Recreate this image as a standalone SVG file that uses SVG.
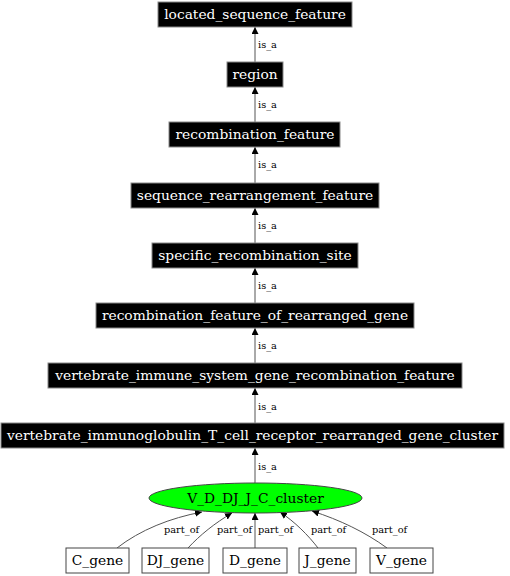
<svg xmlns="http://www.w3.org/2000/svg" width="510" height="576" viewBox="0 0 510 576">
<defs>
<marker id="arr" viewBox="0 0 10 10" refX="10" refY="5" markerWidth="7" markerHeight="7" markerUnits="userSpaceOnUse" orient="auto">
<path d="M0,0 L10,5 L0,10 z" fill="#000"/>
</marker>
<style>
.b rect{fill:#000;stroke:#888;stroke-width:1}
.b text{fill:#fff;font-family:"DejaVu Serif",serif;font-size:13.8px;text-anchor:middle}
.w rect{fill:#fff;stroke:#444;stroke-width:1}
.w text{fill:#000;font-family:"DejaVu Serif",serif;font-size:13.8px;text-anchor:middle}
.e path{fill:none;stroke:#555;stroke-width:1;marker-end:url(#arr)}
.e text{fill:#000;font-family:"DejaVu Serif",serif;font-size:9.8px}
</style>
</defs>
<rect width="510" height="576" fill="#fff"/>
<g class="e" id="connectors">
<path d="M255,62 V27"/><text x="258" y="48">is_a</text>
<path d="M255,122 V87"/><text x="258" y="108">is_a</text>
<path d="M255,183 V147"/><text x="258" y="168">is_a</text>
<path d="M255,243 V208"/><text x="258" y="229">is_a</text>
<path d="M255,303 V268"/><text x="258" y="289">is_a</text>
<path d="M255,363 V328"/><text x="258" y="349">is_a</text>
<path d="M255,423 V388"/><text x="258" y="410">is_a</text>
<path d="M255,483 V448"/><text x="258" y="470">is_a</text>
<path d="M117,548 C140,530 170,518 202,512"/><text x="164" y="533">part_of</text>
<path d="M188,548 C200,535 215,523 232,513"/><text x="217" y="533">part_of</text>
<path d="M255,548 V513"/><text x="258" y="533">part_of</text>
<path d="M318,548 C308,535 295,522 280,512"/><text x="311" y="533">part_of</text>
<path d="M387,548 C365,532 340,520 312,511"/><text x="372" y="533">part_of</text>
</g>
<g class="b" id="located_sequence_feature"><rect x="158" y="2" width="194" height="25"/><text x="255" y="19">located_sequence_feature</text></g>
<g class="b" id="region"><rect x="227" y="62" width="56" height="25"/><text x="255" y="79">region</text></g>
<g class="b" id="recombination_feature"><rect x="169" y="122" width="171" height="25"/><text x="255" y="139">recombination_feature</text></g>
<g class="b" id="sequence_rearrangement_feature"><rect x="131" y="183" width="248" height="25"/><text x="255" y="200">sequence_rearrangement_feature</text></g>
<g class="b" id="specific_recombination_site"><rect x="152" y="243" width="206" height="25"/><text x="255" y="260">specific_recombination_site</text></g>
<g class="b" id="recombination_feature_of_rearranged_gene"><rect x="96" y="303" width="318" height="25"/><text x="255" y="320">recombination_feature_of_rearranged_gene</text></g>
<g class="b" id="vertebrate_immune_system_gene_recombination_feature"><rect x="48" y="363" width="414" height="25"/><text x="255" y="380">vertebrate_immune_system_gene_recombination_feature</text></g>
<g class="b" id="vertebrate_immunoglobulin_T_cell_receptor_rearranged_gene_cluster"><rect x="1" y="423" width="503" height="25"/><text x="252.5" y="440">vertebrate_immunoglobulin_T_cell_receptor_rearranged_gene_cluster</text></g>
<g id="V_D_DJ_J_C_cluster"><ellipse cx="255.5" cy="498" rx="106.5" ry="15" fill="#00ff00" stroke="#444"/><text x="255.5" y="503" font-family="DejaVu Serif,serif" font-size="13.8" text-anchor="middle">V_D_DJ_J_C_cluster</text></g>
<g class="w" id="C_gene"><rect x="66" y="548" width="63" height="25"/><text x="97.5" y="565">C_gene</text></g>
<g class="w" id="DJ_gene"><rect x="142" y="548" width="67" height="25"/><text x="175.5" y="565">DJ_gene</text></g>
<g class="w" id="D_gene"><rect x="223" y="548" width="64" height="25"/><text x="255" y="565">D_gene</text></g>
<g class="w" id="J_gene"><rect x="299" y="548" width="57" height="25"/><text x="327.5" y="565">J_gene</text></g>
<g class="w" id="V_gene"><rect x="370" y="548" width="63" height="25"/><text x="401.5" y="565">V_gene</text></g>
</svg>
